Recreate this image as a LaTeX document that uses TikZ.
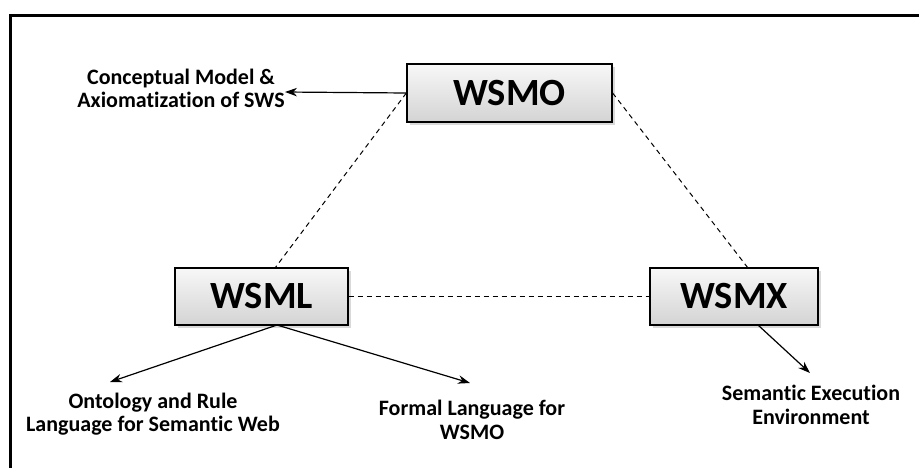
\documentclass[tikz,border=0pt]{standalone}
\usepackage{fontspec}
\setmainfont{Carlito}[Ligatures=NoCommon]
\usetikzlibrary{shadows,arrows.meta,calc}
\begin{document}
\begin{tikzpicture}[x=1pt,y=-1pt,
  box/.style={draw=black, line width=1.3pt, top color=gray!6, bottom color=gray!34,
    drop shadow={opacity=0.3, shadow xshift=3pt, shadow yshift=-3pt},
    inner sep=0pt, font=\fontsize{38.5}{42}\selectfont\bfseries},
  lbl/.style={align=center, inner sep=0pt, font=\fontsize{22}{23.5}\selectfont\bfseries},
  link/.style={line width=1pt, dash pattern=on 5pt off 4pt},
  arr/.style={line width=1.2pt, -{Stealth[length=12pt,width=8.5pt]}}]
\useasboundingbox (0,0) rectangle (919,467);
% outer frame, running off the right and bottom edges
\begin{scope}
  \clip (0,0) rectangle (919,467);
  \draw[line width=3pt] (10,15) rectangle (945,495);
\end{scope}

% the three components
\node[box, minimum width=205pt, minimum height=58pt] (wsmo) at (509.5,93) {WSMO};
\node[box, minimum width=173pt, minimum height=57pt] (wsml) at (261.5,296.5) {WSML};
\node[box, minimum width=168pt, minimum height=57pt] (wsmx) at (734,296.5) {WSMX};

% descriptions
\node[lbl] (conc) at (181,88.5) {Conceptual Model \&\\Axiomatization of SWS};
\node[lbl] (onto) at (153,414) {Ontology and Rule\\Language for Semantic Web};
\node[lbl] (form) at (472,420) {Formal Language for\\WSMO};
\node[lbl] (sem)  at (811,405) {Semantic Execution\\Environment};

% anchor points of the connectors
\coordinate (concTip) at (285,92);
\coordinate (mlTop) at (275,268);
\coordinate (mxTop) at (748,268);
\coordinate (mlFoot) at (277,325);
\coordinate (ontoTip) at (110,382);
\coordinate (formTip) at (470,383);
\coordinate (mxFoot) at (758,325);
\coordinate (semTip) at (810,373);

% dashed relations between the components
\draw[link] (wsmo.west) -- (mlTop);
\draw[link] (wsmo.east) -- (mxTop);
\draw[link] (wsml.east) -- (wsmx.west);

% arrows to the descriptions
\draw[arr] (wsmo.west) -- (concTip);
\draw[arr] (mlFoot) -- (ontoTip);
\draw[arr] (mlFoot) -- (formTip);
\draw[arr] (mxFoot) -- (semTip);
\end{tikzpicture}
\end{document}
